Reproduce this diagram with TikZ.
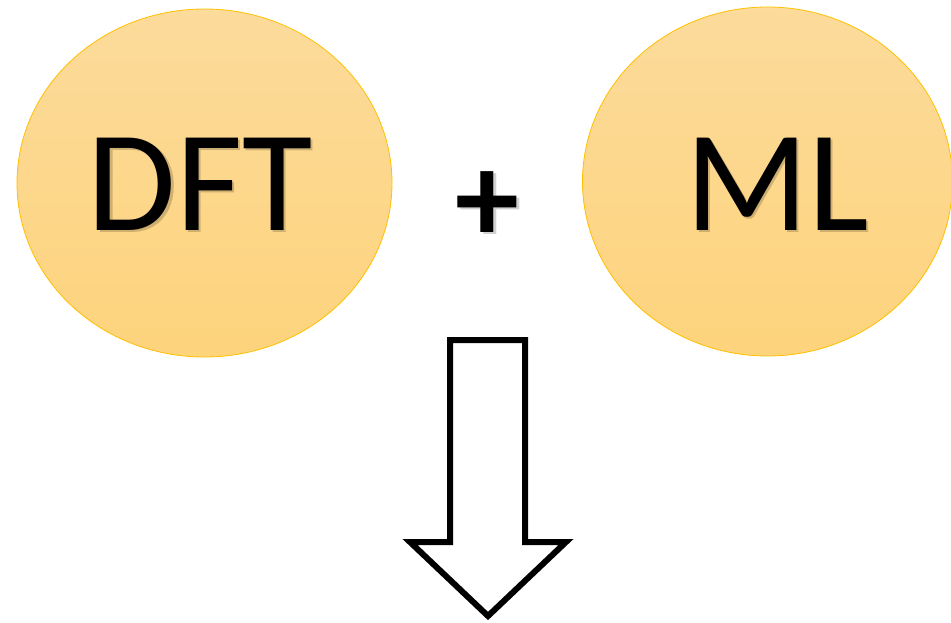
\documentclass[tikz,border=0pt]{standalone}
\usepackage{fontspec}
\setmainfont{Carlito}
\usetikzlibrary{shapes.geometric}
\definecolor{ringline}{HTML}{FFC000}
\definecolor{fillTop}{HTML}{FCDB9B}
\definecolor{fillBottom}{HTML}{FDD37C}
\tikzset{
  bubble/.style={ellipse, draw=ringline, line width=0.8pt,
    top color=fillTop, bottom color=fillBottom, inner sep=0pt},
  bigword/.style={anchor=base, inner sep=0pt, font=\fontsize{144}{144}\selectfont},
  plussign/.style={anchor=base, inner sep=0pt, font=\bfseries\fontsize{128}{128}\selectfont},
  shade/.style={text=black, opacity=0.18},
  blockarrow/.style={draw=black, fill=white, line width=6pt, miter limit=10}
}
\begin{document}
\begin{tikzpicture}[x=1pt, y=-1pt]
  \useasboundingbox (0,0) rectangle (951,623);
  % the two ingredient bubbles
  \node[bubble, minimum width=375pt, minimum height=348pt] (dft) at (204.5,183) {};
  \node[bubble, minimum width=370pt, minimum height=349pt] (ml) at (767.5,181.5) {};
  % labels with a faint drop shadow
  \node[bigword, shade] (dftshade) at (202.5,232.5) {DFT};
  \node[bigword] (dftlabel) at (200,230) {DFT};
  \node[bigword, shade] (mlshade) at (779.5,232.5) {ML};
  \node[bigword] (mllabel) at (777,230) {ML};
  % plus sign between them
  \node[plussign, shade] (plusshade) at (490,244.5) {+};
  \node[plussign] (plus) at (487.5,242) {+};
  % hollow block arrow pointing down
  \draw[blockarrow] (450,340) -- (525,340) -- (525,542) -- (566,542)
    -- (488,616) -- (410,542) -- (450,542) -- cycle;
\end{tikzpicture}
\end{document}
